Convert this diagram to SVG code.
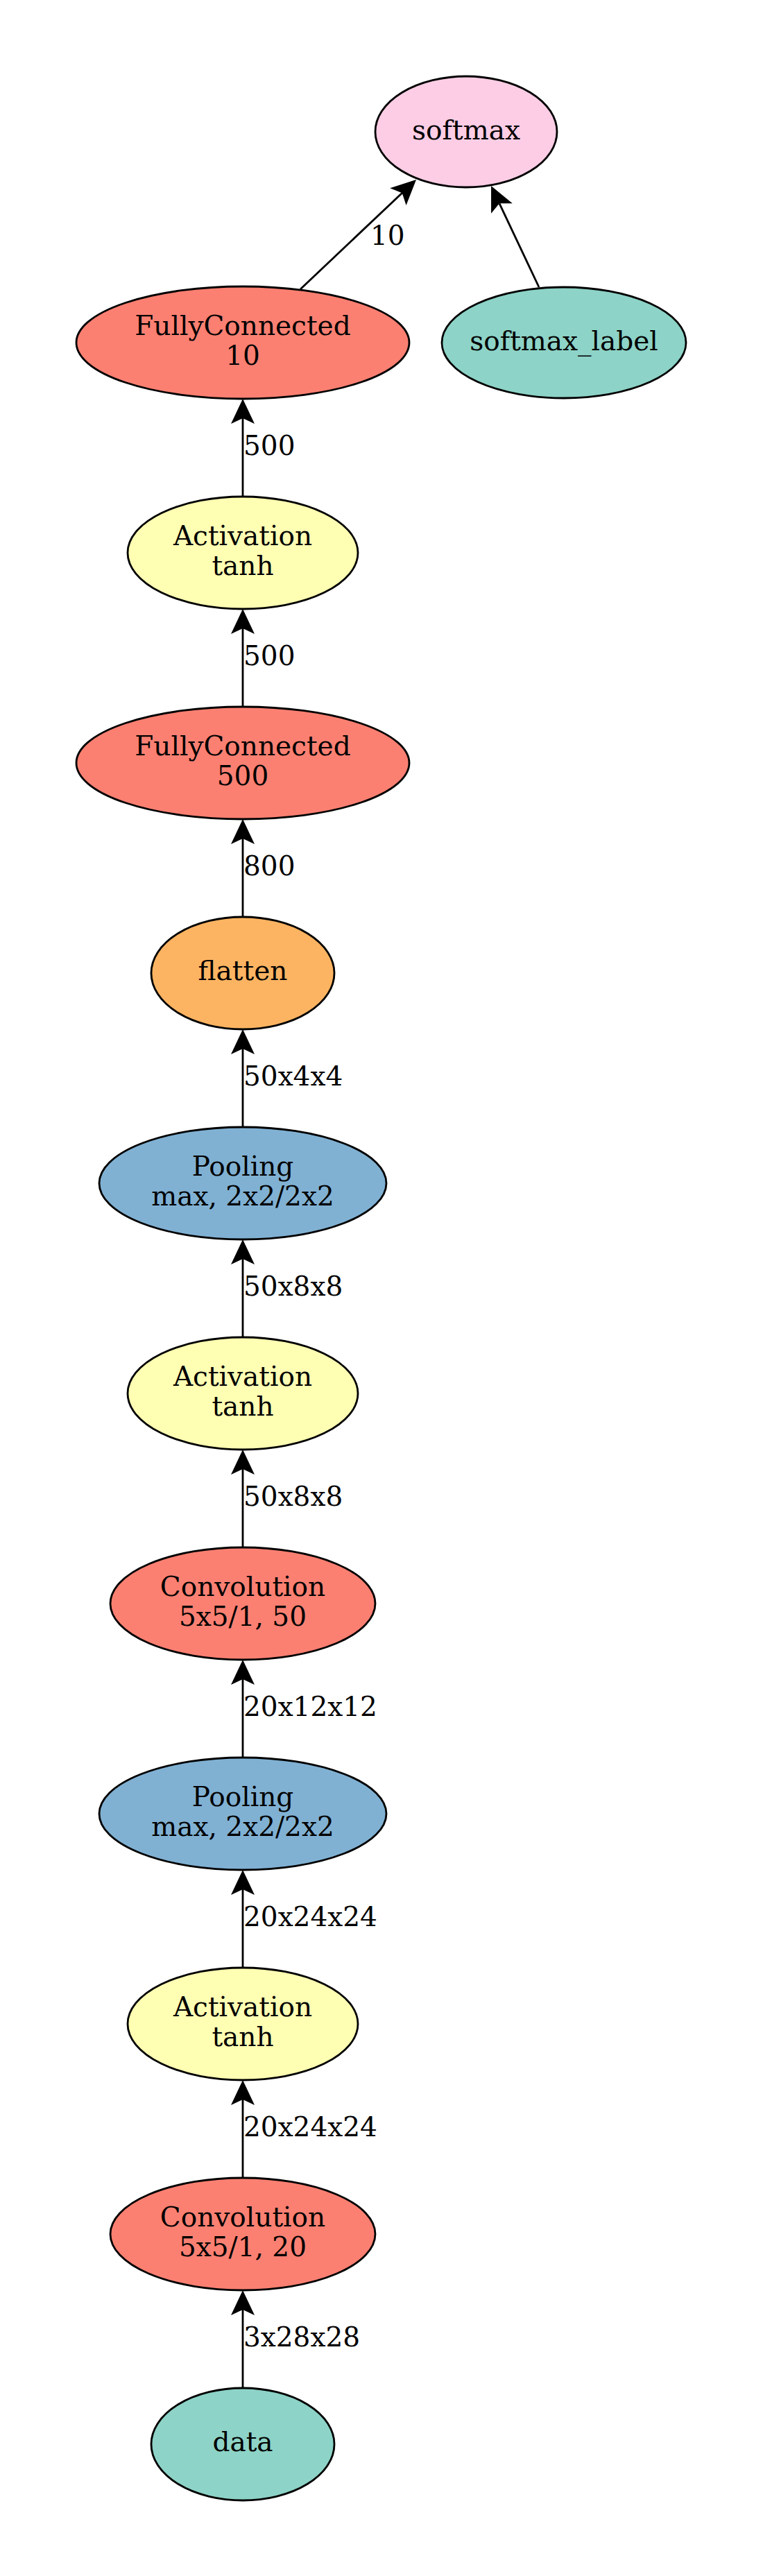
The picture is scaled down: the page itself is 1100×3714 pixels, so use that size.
<svg xmlns="http://www.w3.org/2000/svg" width="1100" height="3714" viewBox="0 0 1100 3714">
<style>
.n ellipse{stroke:#000;stroke-width:2.8}
.n text{font-family:"DejaVu Serif",serif;font-size:39px;text-anchor:middle;fill:#000}
.e line{stroke:#000;stroke-width:2.8;fill:none}
.l{font-family:"DejaVu Serif",serif;font-size:39px;fill:#000}
</style>
<defs>
<marker id="v" markerUnits="userSpaceOnUse" markerWidth="40" markerHeight="40" refX="8" refY="17" orient="auto" overflow="visible">
<path d="M36,17 L0,0 L8,17 L0,34 Z" fill="#000"/>
</marker>
</defs>
<rect width="1100" height="3714" fill="#fff"/>
<g id="connectors" class="e">
<line x1="433" y1="417" x2="579.7" y2="278.2" marker-end="url(#v)"/>
<line x1="777" y1="414" x2="720" y2="293.3" marker-end="url(#v)"/>
<line x1="350" y1="716" x2="350" y2="603" marker-end="url(#v)"/>
<line x1="350" y1="1019" x2="350" y2="906" marker-end="url(#v)"/>
<line x1="350" y1="1322" x2="350" y2="1209" marker-end="url(#v)"/>
<line x1="350" y1="1625" x2="350" y2="1512" marker-end="url(#v)"/>
<line x1="350" y1="1928" x2="350" y2="1815" marker-end="url(#v)"/>
<line x1="350" y1="2231" x2="350" y2="2118" marker-end="url(#v)"/>
<line x1="350" y1="2534" x2="350" y2="2421" marker-end="url(#v)"/>
<line x1="350" y1="2837" x2="350" y2="2724" marker-end="url(#v)"/>
<line x1="350" y1="3140" x2="350" y2="3027" marker-end="url(#v)"/>
<line x1="350" y1="3443" x2="350" y2="3330" marker-end="url(#v)"/>
<text class="l" x="534" y="353">10</text>
<text class="l" x="351" y="656">500</text>
<text class="l" x="351" y="959">500</text>
<text class="l" x="351" y="1262">800</text>
<text class="l" x="351" y="1565">50x4x4</text>
<text class="l" x="351" y="1868">50x8x8</text>
<text class="l" x="351" y="2171">50x8x8</text>
<text class="l" x="351" y="2474">20x12x12</text>
<text class="l" x="351" y="2777">20x24x24</text>
<text class="l" x="351" y="3080">20x24x24</text>
<text class="l" x="351" y="3383">3x28x28</text>
</g>
<g id="softmax" class="n"><ellipse cx="672" cy="190" rx="131" ry="80" fill="#fccde5"/><text x="672" y="201">softmax</text></g>
<g id="fc10" class="n"><ellipse cx="350" cy="494" rx="240" ry="81" fill="#fb8072"/><text x="350" y="483">FullyConnected</text><text x="350" y="526">10</text></g>
<g id="softmax_label" class="n"><ellipse cx="813" cy="494" rx="176" ry="80" fill="#8dd3c7"/><text x="813" y="505">softmax_label</text></g>
<g id="act3" class="n"><ellipse cx="350" cy="797" rx="166" ry="81" fill="#ffffb3"/><text x="350" y="786">Activation</text><text x="350" y="829">tanh</text></g>
<g id="fc500" class="n"><ellipse cx="350" cy="1100" rx="240" ry="81" fill="#fb8072"/><text x="350" y="1089">FullyConnected</text><text x="350" y="1132">500</text></g>
<g id="flatten" class="n"><ellipse cx="350" cy="1403" rx="132" ry="81" fill="#fdb462"/><text x="350" y="1413">flatten</text></g>
<g id="pool2" class="n"><ellipse cx="350" cy="1706" rx="207" ry="81" fill="#80b1d3"/><text x="350" y="1695">Pooling</text><text x="350" y="1738">max, 2x2/2x2</text></g>
<g id="act2" class="n"><ellipse cx="350" cy="2009" rx="166" ry="81" fill="#ffffb3"/><text x="350" y="1998">Activation</text><text x="350" y="2041">tanh</text></g>
<g id="conv2" class="n"><ellipse cx="350" cy="2312" rx="191" ry="81" fill="#fb8072"/><text x="350" y="2301">Convolution</text><text x="350" y="2344">5x5/1, 50</text></g>
<g id="pool1" class="n"><ellipse cx="350" cy="2615" rx="207" ry="81" fill="#80b1d3"/><text x="350" y="2604">Pooling</text><text x="350" y="2647">max, 2x2/2x2</text></g>
<g id="act1" class="n"><ellipse cx="350" cy="2918" rx="166" ry="81" fill="#ffffb3"/><text x="350" y="2907">Activation</text><text x="350" y="2950">tanh</text></g>
<g id="conv1" class="n"><ellipse cx="350" cy="3221" rx="191" ry="81" fill="#fb8072"/><text x="350" y="3210">Convolution</text><text x="350" y="3253">5x5/1, 20</text></g>
<g id="data" class="n"><ellipse cx="350" cy="3524" rx="132" ry="81" fill="#8dd3c7"/><text x="350" y="3534">data</text></g>
</svg>
